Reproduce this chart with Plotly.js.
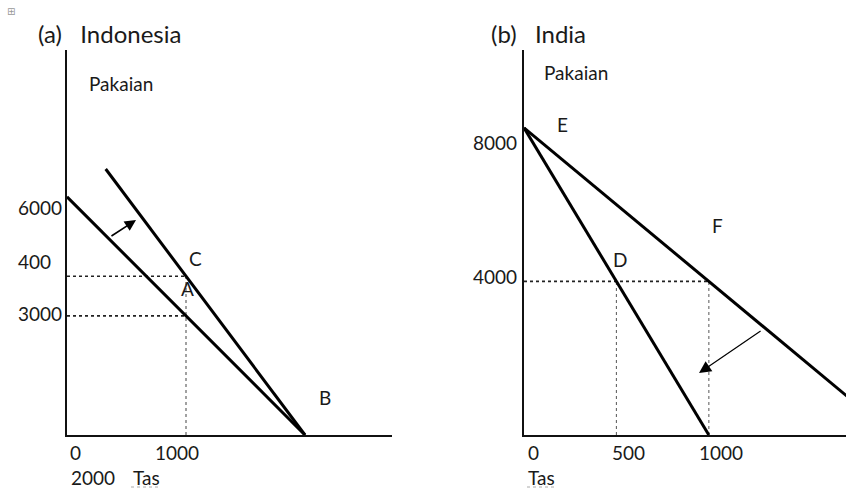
<!DOCTYPE html>
<html>
<head>
<meta charset="utf-8">
<script src="https://cdn.plot.ly/plotly-3.0.1.min.js"></script>
<style>
  html, body { margin: 0; padding: 0; background: #fff; }
  #chart { width: 846px; height: 489px; }
</style>
</head>
<body>
<div id="chart"></div>
<script>
// ---- Indonesia (panel a) ----
const indoPpfX = [0, 2000];
const indoPpfY = [6000, 0];
const indoTradeX = [325, 2000];
const indoTradeY = [6700, 0];
const indoPointLabels = ['A', 'B', 'C'];
const indoPointX = [1000, 2000, 1000];
const indoPointY = [3000, 0, 4000];
const indoYTickVals = [6000, 4000, 3000];
const indoYTickText = ['6000', '400', '3000'];
const indoXTickVals = [0, 1000];
const indoXTickText = ['0', '1000'];
const indoArrowFrom = [361, 4987];
const indoArrowTo = [580, 5416];

// ---- India (panel b) ----
const indiaPpfX = [0, 1000];
const indiaPpfY = [8000, 0];
const indiaTradeX = [0, 2000];
const indiaTradeY = [8000, 0];
const indiaPointLabels = ['E', 'D', 'F'];
const indiaPointX = [0, 500, 1000];
const indiaPointY = [8000, 4000, 4000];
const indiaYTickVals = [8000, 4000];
const indiaYTickText = ['8000', '4000'];
const indiaXTickVals = [0, 500, 1000];
const indiaXTickText = ['0', '500', '1000'];
const indiaArrowFrom = [1288, 2734];
const indiaArrowTo = [947, 1615];

// ---- page geometry helpers ----
const W = 846, H = 489;
const px = v => v / W;
const py = v => 1 - v / H;
const FONT = 'Lato, "Open Sans", sans-serif';
const INK = '#1a1a1a';

const bold = (xs, ys, xa, ya) => ({
  x: xs, y: ys, xaxis: xa, yaxis: ya, mode: 'lines', type: 'scatter',
  line: { color: '#000', width: 3 }, hoverinfo: 'skip'
});
const guide = (xs, ys, xa, ya, w, c) => ({
  x: xs, y: ys, xaxis: xa, yaxis: ya, mode: 'lines', type: 'scatter',
  line: { color: c, width: w, dash: 'dot' }, hoverinfo: 'skip'
});

// index of a named point
const at = (labels, name) => labels.indexOf(name);
const ia = n => at(indoPointLabels, n);
const ib = n => at(indiaPointLabels, n);

const traces = [
  // Indonesia: dotted guides to C and A, then both lines
  guide([0, indoPointX[ia('C')]], [indoPointY[ia('C')], indoPointY[ia('C')]], 'x', 'y', 1.6, '#222'),
  guide([0, indoPointX[ia('A')]], [indoPointY[ia('A')], indoPointY[ia('A')]], 'x', 'y', 1.6, '#222'),
  guide([indoPointX[ia('C')], indoPointX[ia('C')]], [0, indoPointY[ia('C')]], 'x', 'y', 1.1, '#555'),
  bold(indoPpfX, indoPpfY, 'x', 'y'),
  bold(indoTradeX, indoTradeY, 'x', 'y'),
  // India: dotted guides to D and F, then both lines
  guide([0, indiaPointX[ib('F')]], [indiaPointY[ib('F')], indiaPointY[ib('F')]], 'x2', 'y2', 1.6, '#222'),
  guide([indiaPointX[ib('D')], indiaPointX[ib('D')]], [0, indiaPointY[ib('D')]], 'x2', 'y2', 1.1, '#666'),
  guide([indiaPointX[ib('F')], indiaPointX[ib('F')]], [0, indiaPointY[ib('F')]], 'x2', 'y2', 1.1, '#666'),
  bold(indiaPpfX, indiaPpfY, 'x2', 'y2'),
  bold(indiaTradeX, indiaTradeY, 'x2', 'y2')
];

const ann = [];
const txt = (o) => ann.push(Object.assign({
  showarrow: false, font: { family: FONT, size: 19, color: INK }
}, o));

// panel headings and axis names
txt({ xref: 'paper', yref: 'paper', x: px(36), y: py(33), xanchor: 'left', yanchor: 'middle',
      text: '(a)\u00A0\u00A0\u00A0Indonesia', font: { family: FONT, size: 24, color: INK } });
txt({ xref: 'paper', yref: 'paper', x: px(489), y: py(33), xanchor: 'left', yanchor: 'middle',
      text: '(b)\u00A0\u00A0\u00A0India', font: { family: FONT, size: 24, color: INK } });
txt({ xref: 'paper', yref: 'paper', x: px(87), y: py(83), xanchor: 'left', yanchor: 'middle', text: 'Pakaian' });
txt({ xref: 'paper', yref: 'paper', x: px(542), y: py(72), xanchor: 'left', yanchor: 'middle', text: 'Pakaian' });
txt({ xref: 'paper', yref: 'paper', x: px(69), y: py(477), xanchor: 'left', yanchor: 'middle', text: '2000' });
txt({ xref: 'paper', yref: 'paper', x: px(131), y: py(477), xanchor: 'left', yanchor: 'middle', text: 'Tas' });
txt({ xref: 'paper', yref: 'paper', x: px(526), y: py(477), xanchor: 'left', yanchor: 'middle', text: 'Tas' });
txt({ xref: 'paper', yref: 'paper', x: px(5), y: py(12), xanchor: 'left', yanchor: 'middle', text: '\u229E',
      font: { family: 'DejaVu Sans', size: 10, color: '#999' } });

// y tick labels
const indoYShift = [-11, 15, 2];
indoYTickVals.forEach((v, i) => txt({ xref: 'paper', yref: 'y', x: px(16), y: v, xanchor: 'left',
  yanchor: 'middle', yshift: indoYShift[i], text: indoYTickText[i] }));
const indiaYShift = [-15, 5];
indiaYTickVals.forEach((v, i) => txt({ xref: 'paper', yref: 'y2', x: px(519), y: v, xanchor: 'right',
  yanchor: 'middle', yshift: indiaYShift[i], text: indiaYTickText[i] }));

// x tick labels
const indoXShift = [8, -9];
indoXTickVals.forEach((v, i) => txt({ xref: 'x', yref: 'paper', x: v, y: py(452), xanchor: 'center',
  yanchor: 'middle', xshift: indoXShift[i], text: indoXTickText[i] }));
const indiaXShift = [9, 12, 12];
indiaXTickVals.forEach((v, i) => txt({ xref: 'x2', yref: 'paper', x: v, y: py(452), xanchor: 'center',
  yanchor: 'middle', xshift: indiaXShift[i], text: indiaXTickText[i] }));

// point letters, offset from their points
const indoOff = { A: [1, 27], B: [20, 38], C: [9, 18] };
indoPointLabels.forEach((n, i) => txt({ xref: 'x', yref: 'y', x: indoPointX[i], y: indoPointY[i],
  xshift: indoOff[n][0], yshift: indoOff[n][1], xanchor: 'center', yanchor: 'middle', text: n }));
const indiaOff = { E: [38, 3], D: [4, 22], F: [9, 56] };
indiaPointLabels.forEach((n, i) => txt({ xref: 'x2', yref: 'y2', x: indiaPointX[i], y: indiaPointY[i],
  xshift: indiaOff[n][0], yshift: indiaOff[n][1], xanchor: 'center', yanchor: 'middle', text: n }));

// shift arrows
const arrow = (xa, ya, from, to, w, s) => ann.push({
  xref: xa, yref: ya, axref: xa, ayref: ya, x: to[0], y: to[1], ax: from[0], ay: from[1],
  text: '', showarrow: true, arrowhead: 2, arrowsize: s, arrowwidth: w, arrowcolor: '#000', standoff: 0
});
arrow('x', 'y', indoArrowFrom, indoArrowTo, 1.6, 1.4);
arrow('x2', 'y2', indiaArrowFrom, indiaArrowTo, 1.2, 2.0);

const axisBase = {
  showgrid: false, zeroline: false, showticklabels: false, ticks: '',
  showline: true, linecolor: '#111', linewidth: 1.6, fixedrange: true
};

const layout = {
  width: W, height: H,
  margin: { l: 0, r: 0, t: 0, b: 0 },
  paper_bgcolor: '#fff', plot_bgcolor: '#fff',
  showlegend: false, hovermode: false,
  xaxis: Object.assign({}, axisBase, { domain: [px(67), px(392)], range: [0, 2731], anchor: 'y' }),
  yaxis: Object.assign({}, axisBase, { domain: [py(435), py(50)], range: [0, 9698], anchor: 'x' }),
  xaxis2: Object.assign({}, axisBase, { domain: [px(524), 1], range: [0, 1742], anchor: 'y2' }),
  yaxis2: Object.assign({}, axisBase, { domain: [py(435), py(50)], range: [0, 10026], anchor: 'x2' }),
  annotations: ann,
  shapes: [
    { type: 'line', xref: 'paper', yref: 'paper', x0: px(131), x1: px(161), y0: py(487), y1: py(487),
      line: { color: '#aaa', width: 1, dash: 'dot' } },
    { type: 'line', xref: 'paper', yref: 'paper', x0: px(527), x1: px(556), y0: py(487), y1: py(487),
      line: { color: '#aaa', width: 1, dash: 'dot' } }
  ]
};

Plotly.newPlot('chart', traces, layout, { staticPlot: true, displayModeBar: false });
</script>
</body>
</html>
